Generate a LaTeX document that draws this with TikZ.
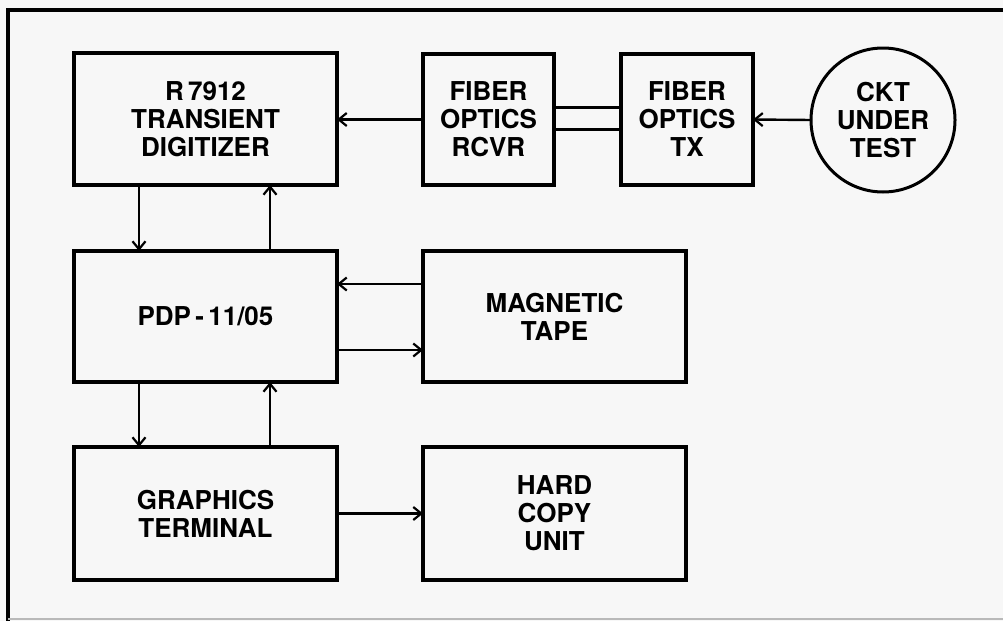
\documentclass[tikz,border=0pt]{standalone}
\usepackage{fontspec}
\setmainfont{TeX Gyre Heros}
\usetikzlibrary{arrows.meta}
\definecolor{paper}{rgb}{0.97,0.97,0.97}
\begin{document}
\begin{tikzpicture}[x=1pt,y=-1pt,
  txt/.style={align=center,font=\fontsize{26}{28}\selectfont\bfseries},
  blk/.style={draw,line width=3.2pt,rectangle,outer sep=0pt,inner sep=0pt,txt},
  wide/.style={blk,minimum width=263pt,minimum height=132pt},
  narrow/.style={blk,minimum width=131pt,minimum height=131pt},
  circ/.style={draw,line width=3pt,circle,minimum size=144pt,outer sep=0pt,inner sep=0pt,txt},
  arr/.style={line width=2.4pt,-{Straight Barb[length=8pt,width=13pt,line width=2.2pt]}},
  ln/.style={line width=2.4pt}]
\fill[paper] (0,0) rectangle (1003,621);
\useasboundingbox (0,0) rectangle (1003,621);
% frame
\coordinate (ftr) at (1003,10);
\coordinate (ftl) at (8,10);
\coordinate (fbl) at (8,621);
\draw[line width=3.6pt] (ftr) -- (ftl) -- (fbl);
\coordinate (fb1) at (8,619);
\coordinate (fb2) at (1003,619);
\draw[line width=2.4pt,gray!55] (fb1) -- (fb2);
% nodes
\node[wide] (dig) at (205.5,119) {R\,7912\\TRANSIENT\\DIGITIZER};
\node[narrow] (rcvr) at (488.5,119.5) {FIBER\\OPTICS\\RCVR};
\node[narrow,minimum width=132pt] (tx) at (687,119.5) {FIBER\\OPTICS\\TX};
\node[circ] (ckt) at (883,120) {CKT\\UNDER\\TEST};
\node[wide,minimum height=131pt] (pdp) at (205.5,316.5) {PDP\,-\,11/05};
\node[wide,minimum height=131pt] (tape) at (554.5,316.5) {MAGNETIC\\TAPE};
\node[wide,minimum height=133pt] (gfx) at (205.5,513.5) {GRAPHICS\\TERMINAL};
\node[wide,minimum height=133pt] (hcu) at (554.5,513.5) {HARD\\COPY\\UNIT};
% connectors
\draw[arr] (ckt.west) -- (tx.east);
\draw[ln] ([yshift=12pt]tx.west) -- ([yshift=12pt]rcvr.east);
\draw[ln] ([yshift=-10pt]tx.west) -- ([yshift=-10pt]rcvr.east);
\draw[arr] (rcvr.west) -- (dig.east |- rcvr.west);
\draw[arr] ([xshift=65pt]dig.south west) -- ([xshift=65pt]pdp.north west);
\draw[arr] ([xshift=196pt]pdp.north west) -- ([xshift=196pt]dig.south west);
\draw[arr] ([yshift=32.5pt]tape.west) -- ([yshift=32.5pt]pdp.east);
\draw[arr] ([yshift=-33.5pt]pdp.east) -- ([yshift=-33.5pt]tape.west);
\draw[arr] ([xshift=65pt]pdp.south west) -- ([xshift=65pt]gfx.north west);
\draw[arr] ([xshift=196pt]gfx.north west) -- ([xshift=196pt]pdp.south west);
\draw[arr] (gfx.east) -- (hcu.west);
\end{tikzpicture}
\end{document}
